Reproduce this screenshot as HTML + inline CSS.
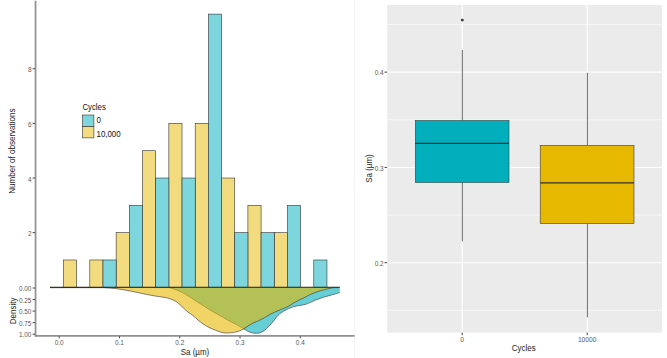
<!DOCTYPE html>
<html><head><meta charset="utf-8"><style>
html,body{margin:0;padding:0;background:#fff;}
body{width:667px;height:358px;overflow:hidden;position:relative;font-family:"Liberation Sans", sans-serif;}
svg text{font-family:"Liberation Sans", sans-serif;}
</style></head><body>
<svg width="667" height="358" viewBox="0 0 667 358" style="position:absolute;left:0;top:0">
<rect x="0" y="0" width="667" height="358" fill="#fff"/>
<line x1="354.5" y1="0" x2="354.5" y2="358" stroke="#f5f5f5" stroke-width="1"/>
<rect x="63.45" y="259.98" width="13.18" height="27.32" fill="#F3DC80" stroke="#333333" stroke-width="0.6"/>
<rect x="89.80" y="259.98" width="13.18" height="27.32" fill="#F3DC80" stroke="#333333" stroke-width="0.6"/>
<rect x="116.15" y="232.66" width="13.18" height="54.64" fill="#F3DC80" stroke="#333333" stroke-width="0.6"/>
<rect x="142.50" y="150.70" width="13.18" height="136.60" fill="#F3DC80" stroke="#333333" stroke-width="0.6"/>
<rect x="168.85" y="123.38" width="13.18" height="163.92" fill="#F3DC80" stroke="#333333" stroke-width="0.6"/>
<rect x="195.20" y="123.38" width="13.18" height="163.92" fill="#F3DC80" stroke="#333333" stroke-width="0.6"/>
<rect x="221.55" y="178.02" width="13.18" height="109.28" fill="#F3DC80" stroke="#333333" stroke-width="0.6"/>
<rect x="247.90" y="205.34" width="13.18" height="81.96" fill="#F3DC80" stroke="#333333" stroke-width="0.6"/>
<rect x="274.25" y="232.66" width="13.18" height="54.64" fill="#F3DC80" stroke="#333333" stroke-width="0.6"/>
<rect x="102.98" y="259.98" width="13.18" height="27.32" fill="#7DD6DD" stroke="#333333" stroke-width="0.6"/>
<rect x="129.32" y="205.34" width="13.18" height="81.96" fill="#7DD6DD" stroke="#333333" stroke-width="0.6"/>
<rect x="155.68" y="178.02" width="13.18" height="109.28" fill="#7DD6DD" stroke="#333333" stroke-width="0.6"/>
<rect x="182.03" y="178.02" width="13.18" height="109.28" fill="#7DD6DD" stroke="#333333" stroke-width="0.6"/>
<rect x="208.38" y="14.10" width="13.18" height="273.20" fill="#7DD6DD" stroke="#333333" stroke-width="0.6"/>
<rect x="234.73" y="232.66" width="13.18" height="54.64" fill="#7DD6DD" stroke="#333333" stroke-width="0.6"/>
<rect x="261.07" y="232.66" width="13.18" height="54.64" fill="#7DD6DD" stroke="#333333" stroke-width="0.6"/>
<rect x="287.43" y="205.34" width="13.18" height="81.96" fill="#7DD6DD" stroke="#333333" stroke-width="0.6"/>
<rect x="313.78" y="259.98" width="13.18" height="27.32" fill="#7DD6DD" stroke="#333333" stroke-width="0.6"/>
<path d="M50.00,287.60 C69.17,287.60 145.08,287.58 165.00,287.60 C184.92,287.62 168.33,287.58 169.50,287.70 C170.67,287.82 171.08,288.02 172.00,288.30 C172.92,288.58 174.00,289.02 175.00,289.40 C176.00,289.78 176.67,290.03 178.00,290.60 C179.33,291.17 181.33,291.93 183.00,292.80 C184.67,293.67 186.33,294.77 188.00,295.80 C189.67,296.83 191.33,297.90 193.00,299.00 C194.67,300.10 196.33,301.32 198.00,302.40 C199.67,303.48 201.33,304.43 203.00,305.50 C204.67,306.57 206.33,307.77 208.00,308.80 C209.67,309.83 211.33,310.75 213.00,311.70 C214.67,312.65 216.33,313.57 218.00,314.50 C219.67,315.43 221.67,316.52 223.00,317.30 C224.33,318.08 224.67,318.45 226.00,319.20 C227.33,319.95 229.33,320.95 231.00,321.80 C232.67,322.65 234.58,323.55 236.00,324.30 C237.42,325.05 238.20,325.55 239.50,326.30 C240.80,327.05 242.22,327.88 243.80,328.80 C245.38,329.72 247.30,331.07 249.00,331.80 C250.70,332.53 252.37,332.98 254.00,333.20 C255.63,333.42 257.53,333.27 258.80,333.10 C260.07,332.93 260.67,332.63 261.60,332.20 C262.53,331.77 263.47,331.20 264.40,330.50 C265.33,329.80 266.27,328.92 267.20,328.00 C268.13,327.08 269.07,326.00 270.00,325.00 C270.93,324.00 271.87,323.13 272.80,322.00 C273.73,320.87 274.67,319.37 275.60,318.20 C276.53,317.03 277.47,315.92 278.40,315.00 C279.33,314.08 280.27,313.38 281.20,312.70 C282.13,312.02 283.07,311.43 284.00,310.90 C284.93,310.37 285.80,309.98 286.80,309.50 C287.80,309.02 288.63,308.53 290.00,308.00 C291.37,307.47 293.33,306.73 295.00,306.30 C296.67,305.87 298.33,305.70 300.00,305.40 C301.67,305.10 303.33,304.97 305.00,304.50 C306.67,304.03 308.33,303.30 310.00,302.60 C311.67,301.90 313.33,301.00 315.00,300.30 C316.67,299.60 318.33,298.98 320.00,298.40 C321.67,297.82 323.33,297.30 325.00,296.80 C326.67,296.30 328.33,295.87 330.00,295.40 C331.67,294.93 333.37,294.47 335.00,294.00 C336.63,293.53 339.00,292.83 339.80,292.60 L339.8,287.3 L50,287.3 Z" fill="#00AFBB" fill-opacity="0.6" stroke="none"/>
<path d="M50.00,287.60 C69.17,287.60 145.08,287.58 165.00,287.60 C184.92,287.62 168.33,287.58 169.50,287.70 C170.67,287.82 171.08,288.02 172.00,288.30 C172.92,288.58 174.00,289.02 175.00,289.40 C176.00,289.78 176.67,290.03 178.00,290.60 C179.33,291.17 181.33,291.93 183.00,292.80 C184.67,293.67 186.33,294.77 188.00,295.80 C189.67,296.83 191.33,297.90 193.00,299.00 C194.67,300.10 196.33,301.32 198.00,302.40 C199.67,303.48 201.33,304.43 203.00,305.50 C204.67,306.57 206.33,307.77 208.00,308.80 C209.67,309.83 211.33,310.75 213.00,311.70 C214.67,312.65 216.33,313.57 218.00,314.50 C219.67,315.43 221.67,316.52 223.00,317.30 C224.33,318.08 224.67,318.45 226.00,319.20 C227.33,319.95 229.33,320.95 231.00,321.80 C232.67,322.65 234.58,323.55 236.00,324.30 C237.42,325.05 238.20,325.55 239.50,326.30 C240.80,327.05 242.22,327.88 243.80,328.80 C245.38,329.72 247.30,331.07 249.00,331.80 C250.70,332.53 252.37,332.98 254.00,333.20 C255.63,333.42 257.53,333.27 258.80,333.10 C260.07,332.93 260.67,332.63 261.60,332.20 C262.53,331.77 263.47,331.20 264.40,330.50 C265.33,329.80 266.27,328.92 267.20,328.00 C268.13,327.08 269.07,326.00 270.00,325.00 C270.93,324.00 271.87,323.13 272.80,322.00 C273.73,320.87 274.67,319.37 275.60,318.20 C276.53,317.03 277.47,315.92 278.40,315.00 C279.33,314.08 280.27,313.38 281.20,312.70 C282.13,312.02 283.07,311.43 284.00,310.90 C284.93,310.37 285.80,309.98 286.80,309.50 C287.80,309.02 288.63,308.53 290.00,308.00 C291.37,307.47 293.33,306.73 295.00,306.30 C296.67,305.87 298.33,305.70 300.00,305.40 C301.67,305.10 303.33,304.97 305.00,304.50 C306.67,304.03 308.33,303.30 310.00,302.60 C311.67,301.90 313.33,301.00 315.00,300.30 C316.67,299.60 318.33,298.98 320.00,298.40 C321.67,297.82 323.33,297.30 325.00,296.80 C326.67,296.30 328.33,295.87 330.00,295.40 C331.67,294.93 333.37,294.47 335.00,294.00 C336.63,293.53 339.00,292.83 339.80,292.60" fill="none" stroke="#333333" stroke-width="0.6"/>
<path d="M50.00,287.60 C58.33,287.60 90.73,287.57 100.00,287.60 C109.27,287.63 103.93,287.72 105.60,287.80 C107.27,287.88 108.43,287.98 110.00,288.10 C111.57,288.22 113.33,288.32 115.00,288.50 C116.67,288.68 118.33,288.93 120.00,289.20 C121.67,289.47 123.33,289.82 125.00,290.10 C126.67,290.38 128.33,290.58 130.00,290.90 C131.67,291.22 133.33,291.65 135.00,292.00 C136.67,292.35 138.33,292.65 140.00,293.00 C141.67,293.35 143.33,293.75 145.00,294.10 C146.67,294.45 148.33,294.78 150.00,295.10 C151.67,295.42 153.33,295.73 155.00,296.00 C156.67,296.27 158.33,296.45 160.00,296.70 C161.67,296.95 163.33,297.15 165.00,297.50 C166.67,297.85 168.33,298.23 170.00,298.80 C171.67,299.37 173.50,300.07 175.00,300.90 C176.50,301.73 177.67,302.68 179.00,303.80 C180.33,304.92 181.50,306.22 183.00,307.60 C184.50,308.98 186.33,310.77 188.00,312.10 C189.67,313.43 191.33,314.28 193.00,315.60 C194.67,316.92 196.33,318.62 198.00,320.00 C199.67,321.38 201.33,322.75 203.00,323.90 C204.67,325.05 206.33,326.00 208.00,326.90 C209.67,327.80 211.33,328.58 213.00,329.30 C214.67,330.02 216.50,330.67 218.00,331.20 C219.50,331.73 220.67,332.20 222.00,332.50 C223.33,332.80 224.50,332.95 226.00,333.00 C227.50,333.05 229.33,332.97 231.00,332.80 C232.67,332.63 234.58,332.32 236.00,332.00 C237.42,331.68 238.20,331.43 239.50,330.90 C240.80,330.37 242.22,329.73 243.80,328.80 C245.38,327.87 247.30,326.32 249.00,325.30 C250.70,324.28 252.37,323.48 254.00,322.70 C255.63,321.92 257.07,321.43 258.80,320.60 C260.53,319.77 262.53,318.73 264.40,317.70 C266.27,316.67 268.13,315.40 270.00,314.40 C271.87,313.40 273.73,312.53 275.60,311.70 C277.47,310.87 279.33,310.17 281.20,309.40 C283.07,308.63 285.33,307.78 286.80,307.10 C288.27,306.42 288.63,306.12 290.00,305.30 C291.37,304.48 293.33,303.15 295.00,302.20 C296.67,301.25 298.33,300.42 300.00,299.60 C301.67,298.78 303.33,298.13 305.00,297.30 C306.67,296.47 308.33,295.40 310.00,294.60 C311.67,293.80 313.33,293.12 315.00,292.50 C316.67,291.88 318.33,291.40 320.00,290.90 C321.67,290.40 323.33,289.93 325.00,289.50 C326.67,289.07 328.50,288.60 330.00,288.30 C331.50,288.00 332.42,287.82 334.00,287.70 C335.58,287.58 338.58,287.62 339.50,287.60 L339.5,287.3 L50,287.3 Z" fill="#E7B800" fill-opacity="0.6" stroke="none"/>
<path d="M50.00,287.60 C58.33,287.60 90.73,287.57 100.00,287.60 C109.27,287.63 103.93,287.72 105.60,287.80 C107.27,287.88 108.43,287.98 110.00,288.10 C111.57,288.22 113.33,288.32 115.00,288.50 C116.67,288.68 118.33,288.93 120.00,289.20 C121.67,289.47 123.33,289.82 125.00,290.10 C126.67,290.38 128.33,290.58 130.00,290.90 C131.67,291.22 133.33,291.65 135.00,292.00 C136.67,292.35 138.33,292.65 140.00,293.00 C141.67,293.35 143.33,293.75 145.00,294.10 C146.67,294.45 148.33,294.78 150.00,295.10 C151.67,295.42 153.33,295.73 155.00,296.00 C156.67,296.27 158.33,296.45 160.00,296.70 C161.67,296.95 163.33,297.15 165.00,297.50 C166.67,297.85 168.33,298.23 170.00,298.80 C171.67,299.37 173.50,300.07 175.00,300.90 C176.50,301.73 177.67,302.68 179.00,303.80 C180.33,304.92 181.50,306.22 183.00,307.60 C184.50,308.98 186.33,310.77 188.00,312.10 C189.67,313.43 191.33,314.28 193.00,315.60 C194.67,316.92 196.33,318.62 198.00,320.00 C199.67,321.38 201.33,322.75 203.00,323.90 C204.67,325.05 206.33,326.00 208.00,326.90 C209.67,327.80 211.33,328.58 213.00,329.30 C214.67,330.02 216.50,330.67 218.00,331.20 C219.50,331.73 220.67,332.20 222.00,332.50 C223.33,332.80 224.50,332.95 226.00,333.00 C227.50,333.05 229.33,332.97 231.00,332.80 C232.67,332.63 234.58,332.32 236.00,332.00 C237.42,331.68 238.20,331.43 239.50,330.90 C240.80,330.37 242.22,329.73 243.80,328.80 C245.38,327.87 247.30,326.32 249.00,325.30 C250.70,324.28 252.37,323.48 254.00,322.70 C255.63,321.92 257.07,321.43 258.80,320.60 C260.53,319.77 262.53,318.73 264.40,317.70 C266.27,316.67 268.13,315.40 270.00,314.40 C271.87,313.40 273.73,312.53 275.60,311.70 C277.47,310.87 279.33,310.17 281.20,309.40 C283.07,308.63 285.33,307.78 286.80,307.10 C288.27,306.42 288.63,306.12 290.00,305.30 C291.37,304.48 293.33,303.15 295.00,302.20 C296.67,301.25 298.33,300.42 300.00,299.60 C301.67,298.78 303.33,298.13 305.00,297.30 C306.67,296.47 308.33,295.40 310.00,294.60 C311.67,293.80 313.33,293.12 315.00,292.50 C316.67,291.88 318.33,291.40 320.00,290.90 C321.67,290.40 323.33,289.93 325.00,289.50 C326.67,289.07 328.50,288.60 330.00,288.30 C331.50,288.00 332.42,287.82 334.00,287.70 C335.58,287.58 338.58,287.62 339.50,287.60" fill="none" stroke="#333333" stroke-width="0.6"/>
<line x1="50.0" y1="287.2" x2="339.8" y2="287.2" stroke="#2a2614" stroke-width="1.1"/>
<line x1="35.55" y1="0.8" x2="35.55" y2="336.6" stroke="#909090" stroke-width="1.7"/>
<line x1="34.7" y1="335.8" x2="354.6" y2="335.8" stroke="#909090" stroke-width="1.7"/>
<line x1="32.6" y1="232.66" x2="35.1" y2="232.66" stroke="#333" stroke-width="0.9"/>
<text x="31.5" y="236.16" font-size="6.4" fill="#5a5a5a" text-anchor="end">2</text>
<line x1="32.6" y1="178.02" x2="35.1" y2="178.02" stroke="#333" stroke-width="0.9"/>
<text x="31.5" y="181.52" font-size="6.4" fill="#5a5a5a" text-anchor="end">4</text>
<line x1="32.6" y1="123.38" x2="35.1" y2="123.38" stroke="#333" stroke-width="0.9"/>
<text x="31.5" y="126.88" font-size="6.4" fill="#5a5a5a" text-anchor="end">6</text>
<line x1="32.6" y1="68.74" x2="35.1" y2="68.74" stroke="#333" stroke-width="0.9"/>
<text x="31.5" y="72.24" font-size="6.4" fill="#5a5a5a" text-anchor="end">8</text>
<line x1="32.6" y1="288.00" x2="35.1" y2="288.00" stroke="#333" stroke-width="0.9"/>
<text x="31.4" y="291.10" font-size="6.4" fill="#5a5a5a" text-anchor="end">0.00</text>
<line x1="32.6" y1="299.55" x2="35.1" y2="299.55" stroke="#333" stroke-width="0.9"/>
<text x="31.4" y="302.65" font-size="6.4" fill="#5a5a5a" text-anchor="end">0.25</text>
<line x1="32.6" y1="311.10" x2="35.1" y2="311.10" stroke="#333" stroke-width="0.9"/>
<text x="31.4" y="314.20" font-size="6.4" fill="#5a5a5a" text-anchor="end">0.50</text>
<line x1="32.6" y1="322.65" x2="35.1" y2="322.65" stroke="#333" stroke-width="0.9"/>
<text x="31.4" y="325.75" font-size="6.4" fill="#5a5a5a" text-anchor="end">0.75</text>
<line x1="32.6" y1="334.20" x2="35.1" y2="334.20" stroke="#333" stroke-width="0.9"/>
<text x="31.4" y="337.30" font-size="6.4" fill="#5a5a5a" text-anchor="end">1.00</text>
<line x1="59.20" y1="336.3" x2="59.20" y2="338.3" stroke="#333" stroke-width="0.9"/>
<text x="59.20" y="344.9" font-size="6.4" fill="#5a5a5a" text-anchor="middle">0.0</text>
<line x1="119.48" y1="336.3" x2="119.48" y2="338.3" stroke="#333" stroke-width="0.9"/>
<text x="119.48" y="344.9" font-size="6.4" fill="#5a5a5a" text-anchor="middle">0.1</text>
<line x1="179.76" y1="336.3" x2="179.76" y2="338.3" stroke="#333" stroke-width="0.9"/>
<text x="179.76" y="344.9" font-size="6.4" fill="#5a5a5a" text-anchor="middle">0.2</text>
<line x1="240.04" y1="336.3" x2="240.04" y2="338.3" stroke="#333" stroke-width="0.9"/>
<text x="240.04" y="344.9" font-size="6.4" fill="#5a5a5a" text-anchor="middle">0.3</text>
<line x1="300.32" y1="336.3" x2="300.32" y2="338.3" stroke="#333" stroke-width="0.9"/>
<text x="300.32" y="344.9" font-size="6.4" fill="#5a5a5a" text-anchor="middle">0.4</text>
<text transform="translate(195.00,354.60) scale(1,1.1)" font-size="8" fill="#1e1e1e" text-anchor="middle">Sa (µm)</text>
<text transform="translate(14.90,151.10) rotate(-90) scale(1,1.06)" font-size="8.05" fill="#1e1e1e" text-anchor="middle">Number of observations</text>
<text transform="translate(15.90,310.90) rotate(-90) scale(1,1.1)" font-size="8.0" fill="#1e1e1e" text-anchor="middle">Density</text>
<text transform="translate(82.40,110.40) scale(1,1.1)" font-size="7.8" fill="#111" text-anchor="start">Cycles</text>
<rect x="82.6" y="115.0" width="11.3" height="11.6" fill="#7DD6DD" stroke="#333333" stroke-width="0.6"/>
<rect x="82.6" y="126.6" width="11.3" height="11.3" fill="#F3DC80" stroke="#333333" stroke-width="0.6"/>
<text transform="translate(96.50,123.40) scale(1,1.1)" font-size="7.9" fill="#111" text-anchor="start">0</text>
<text transform="translate(96.50,136.90) scale(1,1.1)" font-size="7.9" fill="#111" text-anchor="start">10,000</text>
<rect x="387.2" y="5.0" width="274.80" height="327.60" fill="#EBEBEB"/>
<line x1="387.2" y1="24.50" x2="662.0" y2="24.50" stroke="#fff" stroke-width="0.55"/>
<line x1="387.2" y1="119.77" x2="662.0" y2="119.77" stroke="#fff" stroke-width="0.55"/>
<line x1="387.2" y1="215.04" x2="662.0" y2="215.04" stroke="#fff" stroke-width="0.55"/>
<line x1="387.2" y1="310.31" x2="662.0" y2="310.31" stroke="#fff" stroke-width="0.55"/>
<line x1="387.2" y1="72.13" x2="662.0" y2="72.13" stroke="#fff" stroke-width="1.07"/>
<line x1="387.2" y1="167.41" x2="662.0" y2="167.41" stroke="#fff" stroke-width="1.07"/>
<line x1="387.2" y1="262.68" x2="662.0" y2="262.68" stroke="#fff" stroke-width="1.07"/>
<line x1="462.2" y1="5.0" x2="462.2" y2="332.6" stroke="#fff" stroke-width="1.07"/>
<line x1="587.2" y1="5.0" x2="587.2" y2="332.6" stroke="#fff" stroke-width="1.07"/>
<line x1="384.5" y1="72.13" x2="387.2" y2="72.13" stroke="#333" stroke-width="0.9"/>
<text x="383.6" y="75.33" font-size="6.4" fill="#5a5a5a" text-anchor="end">0.4</text>
<line x1="384.5" y1="167.41" x2="387.2" y2="167.41" stroke="#333" stroke-width="0.9"/>
<text x="383.6" y="170.61" font-size="6.4" fill="#5a5a5a" text-anchor="end">0.3</text>
<line x1="384.5" y1="262.68" x2="387.2" y2="262.68" stroke="#333" stroke-width="0.9"/>
<text x="383.6" y="265.88" font-size="6.4" fill="#5a5a5a" text-anchor="end">0.2</text>
<line x1="462.2" y1="332.6" x2="462.2" y2="335.20" stroke="#333" stroke-width="0.9"/>
<text x="462.2" y="342.2" font-size="6.7" fill="#5a5a5a" text-anchor="middle">0</text>
<line x1="587.2" y1="332.6" x2="587.2" y2="335.20" stroke="#333" stroke-width="0.9"/>
<text x="587.2" y="342.2" font-size="6.7" fill="#5a5a5a" text-anchor="middle">10000</text>
<text transform="translate(523.70,351.30) scale(1,1.1)" font-size="8" fill="#1e1e1e" text-anchor="middle">Cycles</text>
<text transform="translate(372.20,168.50) rotate(-90) scale(1,1.1)" font-size="8" fill="#1e1e1e" text-anchor="middle">Sa (µm)</text>
<line x1="462.35" y1="50.0" x2="462.35" y2="120.5" stroke="#3a3a3a" stroke-width="0.75"/>
<line x1="462.35" y1="182.5" x2="462.35" y2="241.4" stroke="#3a3a3a" stroke-width="0.75"/>
<rect x="415.3" y="120.5" width="93.70" height="62.00" fill="#00AFBB" stroke="#333" stroke-width="0.55"/>
<line x1="415.3" y1="143.3" x2="509.0" y2="143.3" stroke="#303030" stroke-width="1.25"/>
<line x1="587.40" y1="72.8" x2="587.40" y2="145.3" stroke="#3a3a3a" stroke-width="0.75"/>
<line x1="587.40" y1="223.6" x2="587.40" y2="317.3" stroke="#3a3a3a" stroke-width="0.75"/>
<rect x="540.2" y="145.3" width="93.80" height="78.30" fill="#E7B800" stroke="#333" stroke-width="0.55"/>
<line x1="540.2" y1="182.9" x2="634.0" y2="182.9" stroke="#303030" stroke-width="1.25"/>
<circle cx="462.3" cy="20.1" r="1.45" fill="#333"/>
</svg>
</body></html>
